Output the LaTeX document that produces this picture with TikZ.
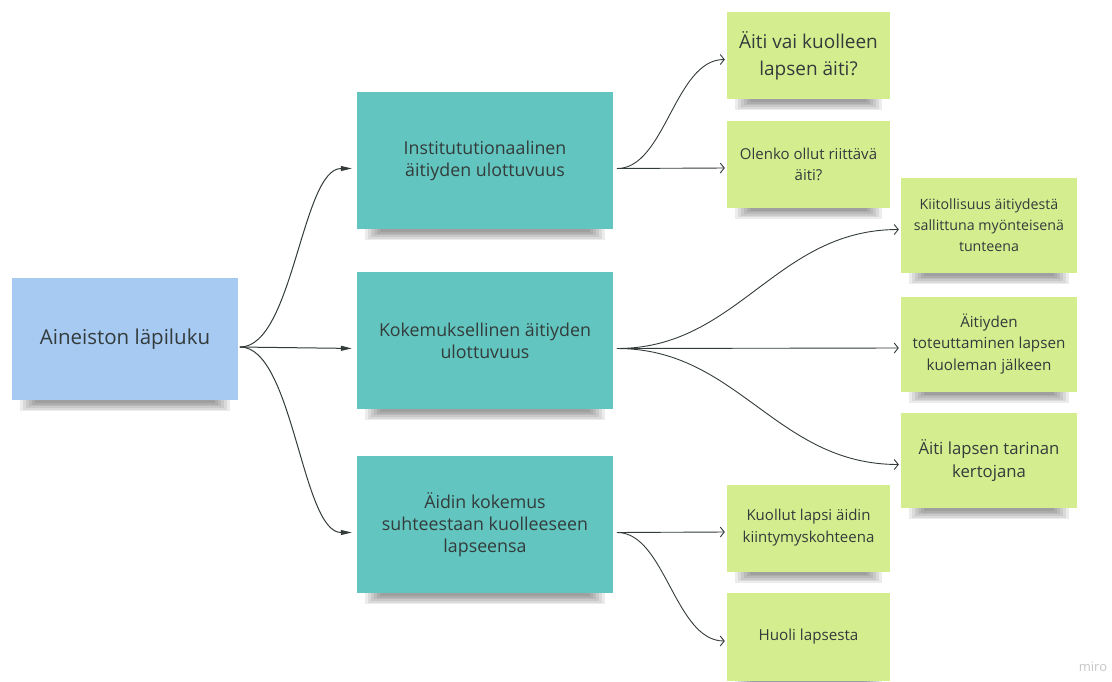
\documentclass[tikz,border=0pt]{standalone}
\usepackage{fontspec}
\setmainfont{Open Sans}
\usepackage{tikz}
\usetikzlibrary{arrows.meta}
\definecolor{lapiblue}{HTML}{A7CAF2}
\definecolor{ulotteal}{HTML}{63C5BF}
\definecolor{notegreen}{HTML}{D4EE8F}
\definecolor{inkgray}{HTML}{333B3B}
\pgfdeclarelayer{paper}
\pgfdeclarelayer{shade}
\pgfsetlayers{paper,shade,main}

\begin{document}
\begin{tikzpicture}[x=1pt,y=-1pt,line cap=round,line join=round,
  note/.style={align=center,text=inkgray,inner sep=0pt},
  ulot/.style={note,fill=ulotteal,minimum width=256,minimum height=137,font=\fontsize{17.8}{22}\selectfont},
  subnote/.style={note,fill=notegreen,minimum width=163,minimum height=87},
  rightnote/.style={note,fill=notegreen,minimum width=176,minimum height=95},
  noteshade/.style={fill=black,opacity=0.075},
  arrmain/.style={draw=inkgray,line width=1pt,-{Triangle[length=11pt,width=5pt]},shorten <=2pt,shorten >=5pt},
  arrsub/.style={draw=inkgray,line width=0.9pt,-{Straight Barb[length=4pt,width=10pt]},shorten <=4pt,shorten >=2pt}]
\useasboundingbox (0,0) rectangle (1112,681);
\begin{pgfonlayer}{paper}
\fill[white] (0,0) rectangle (1112,681);
\end{pgfonlayer}

\node[note,fill=lapiblue,minimum width=226,minimum height=122,font=\fontsize{20.5}{25}\selectfont] (lapi) at (125,339) {Aineiston läpiluku};

\node[ulot] (inst) at (485,160.5) {Institututionaalinen\\äitiyden ulottuvuus};
\node[ulot] (koke) at (485,340.5) {Kokemuksellinen äitiyden\\ulottuvuus};
\node[ulot] (suhde) at (485,524.5) {Äidin kokemus\\suhteestaan kuolleeseen\\lapseensa};

\node[subnote,font=\fontsize{19}{27}\selectfont] (aitivai) at (808.5,55.5) {Äiti vai kuolleen\\lapsen äiti?};
\node[subnote,font=\fontsize{15}{21}\selectfont] (olenko) at (808.5,164) {Olenko ollut riittävä\\äiti?};
\node[subnote,font=\fontsize{15}{22}\selectfont] (kuollut) at (808.5,528) {Kuollut lapsi äidin\\kiintymyskohteena};
\node[subnote,minimum height=88,font=\fontsize{15.2}{21}\selectfont] (huoli) at (808.5,637) {Huoli lapsesta};

\node[rightnote,font=\fontsize{14.2}{21}\selectfont] (kiitos) at (989,225.5) {Kiitollisuus äitiydestä\\sallittuna myönteisenä\\tunteena};
\node[rightnote,font=\fontsize{15.2}{21.5}\selectfont] (toteutus) at (989,344) {Äitiyden\\toteuttaminen lapsen\\kuoleman jälkeen};
\node[rightnote,font=\fontsize{16.7}{23}\selectfont] (kertoja) at (989,460.5) {Äiti lapsen tarinan\\kertojana};

\node[text=gray!45,font=\fontsize{13}{13}\selectfont] (miro) at (1093,667) {miro};

% soft shadows under the notes
\begin{pgfonlayer}{shade}
\foreach \n in {lapi,inst,koke,suhde,aitivai,olenko,kuollut,huoli,kiitos,toteutus,kertoja}
  \foreach \k in {0,...,5}
    \fill[noteshade] ([xshift={8pt+3pt*\k},yshift={-11pt+1.6pt*\k}]\n.south west) rectangle ([xshift={-8pt-3pt*\k},yshift=5pt]\n.south east);
\end{pgfonlayer}

\draw[arrmain] ([yshift=-8pt]lapi.east) .. controls +(55,0) and +(-55,0) .. ([yshift=-8pt]inst.west);
\draw[arrmain] ([yshift=-8pt]lapi.east) -- ([yshift=-8pt]koke.west);
\draw[arrmain] ([yshift=-8pt]lapi.east) .. controls +(55,0) and +(-55,0) .. ([yshift=-8pt]suhde.west);

\draw[arrsub] ([yshift=-8pt]inst.east) .. controls +(52,0) and +(-52,0) .. ([yshift=-4pt]aitivai.west);
\draw[arrsub] ([yshift=-8pt]inst.east) -- ([yshift=-4pt]olenko.west);

\draw[arrsub] ([yshift=-8pt]koke.east) .. controls +(125,0) and +(-125,0) .. ([yshift=-4pt]kiitos.west);
\draw[arrsub] ([yshift=-8pt]koke.east) -- ([yshift=-4pt]toteutus.west);
\draw[arrsub] ([yshift=-8pt]koke.east) .. controls +(125,0) and +(-125,0) .. ([yshift=-4pt]kertoja.west);

\draw[arrsub] ([yshift=-8pt]suhde.east) -- ([yshift=-4pt]kuollut.west);
\draw[arrsub] ([yshift=-8pt]suhde.east) .. controls +(52,0) and +(-52,0) .. ([yshift=-4pt]huoli.west);
\end{tikzpicture}
\end{document}
